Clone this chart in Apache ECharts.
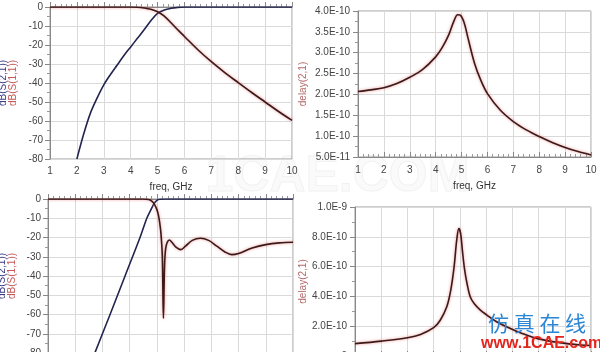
<!DOCTYPE html>
<html>
<head>
<meta charset="utf-8">
<script src="https://cdn.jsdelivr.net/npm/echarts@6/dist/echarts.min.js"></script>
<style>
html,body{margin:0;padding:0;background:#fff;}
#c{width:600px;height:352px;}
</style>
</head>
<body>
<div id="c"></div>
<script>
// ---- Data (freq in GHz) ----
// Top-left: dB(S(2,1)) (navy) and dB(S(1,1)) (red)
const tlS21 = [[2,-80],[2.25,-67],[2.5,-56],[2.75,-48],[3,-41],[3.25,-35.5],[3.5,-30.5],[3.75,-25.5],[4,-21],[4.25,-16.5],[4.5,-12],[4.75,-7.2],[5,-3.4],[5.25,-1.6],[5.5,-0.7],[5.75,-0.2],[6,0],[10,0]];
const tlS11 = [[1,0],[4,0],[4.25,-0.1],[4.5,-0.5],[4.75,-1.2],[5,-2.5],[5.25,-4.8],[5.5,-8.3],[5.75,-12],[6,-15.5],[6.5,-22.5],[7,-28.8],[7.5,-34.5],[8,-39.8],[8.5,-45],[9,-50],[9.5,-55],[10,-59.7]];
// Top-right: delay(2,1) seconds
const trDelay = [[1,2.07e-10],[1.5,2.11e-10],[2,2.16e-10],[2.5,2.26e-10],[3,2.41e-10],[3.5,2.6e-10],[4,2.9e-10],[4.25,3.12e-10],[4.5,3.42e-10],[4.7,3.75e-10],[4.85,3.91e-10],[4.95,3.9e-10],[5.1,3.72e-10],[5.25,3.35e-10],[5.5,2.75e-10],[5.75,2.33e-10],[6,2.02e-10],[6.5,1.62e-10],[7,1.35e-10],[7.5,1.15e-10],[8,9.9e-11],[8.5,8.5e-11],[9,7.3e-11],[9.5,6.3e-11],[10,5.5e-11]];
// Bottom-left: dB(S(2,1)) (navy) and dB(S(1,1)) (red)
const blS21 = [[2.72,-80],[3.28,-60],[3.83,-40],[4.38,-20],[4.63,-10],[4.8,-5],[4.9,-2.3],[5,-0.7],[5.1,-0.1],[5.3,0],[10,0]];
const blS11 = [[1,0],[4.5,0],[4.7,-0.3],[4.8,-1],[4.9,-2.5],[5,-5.5],[5.05,-8],[5.1,-12],[5.15,-18],[5.2,-30],[5.24,-62],[5.28,-35],[5.32,-26],[5.38,-22.5],[5.46,-21.3],[5.55,-22.5],[5.7,-25],[5.88,-26.3],[6.05,-24.5],[6.3,-21.5],[6.6,-20.4],[6.9,-21.5],[7.2,-24.5],[7.5,-27.5],[7.75,-28.9],[8,-28.3],[8.5,-25.5],[9,-23.7],[9.5,-22.8],[10,-22.5]];
// Bottom-right: delay(2,1) seconds
const brDelay = [[1,8.3e-11],[2,1.0e-10],[3,1.23e-10],[3.5,1.45e-10],[4,1.9e-10],[4.25,2.4e-10],[4.5,3.3e-10],[4.65,4.4e-10],[4.78,6.0e-10],[4.88,7.8e-10],[4.96,8.55e-10],[5.03,8.2e-10],[5.1,7.0e-10],[5.18,5.8e-10],[5.28,4.8e-10],[5.39,4.0e-10],[5.55,3.5e-10],[5.77,3.1e-10],[6.03,2.75e-10],[6.4,2.3e-10],[6.8,1.95e-10],[7.4,1.5e-10],[8,1.15e-10],[8.8,9.0e-11],[9.6,7.4e-11],[10,7.0e-11]];

const xLabel = 'freq, GHz';
const s21Name = 'dB(S(2,1))';
const s11Name = 'dB(S(1,1))';
const delayName = 'delay(2,1)';

function fmtE(v){
  if (v === 0) return '0';
  const e = Math.floor(Math.log10(Math.abs(v)) + 1e-9);
  const m = v / Math.pow(10, e);
  return m.toFixed(1) + 'E' + e;
}

const FONT = "'Liberation Sans', Arial, sans-serif";
const TXT = '#444';
const navy = '#23234f';
const maroon = '#3d1a1a';
const glow = 'rgba(225,70,70,0.6)';

function xAx(gi, showName, gap, margin){
  return {
    type:'value', gridIndex:gi, min:1, max:10, interval:1,
    name: showName ? xLabel : '', nameLocation:'middle', nameGap:gap,
    nameTextStyle:{color:'#333', fontSize:10, fontFamily:FONT},
    axisLine:{show:true, lineStyle:{color:'#888', width:1}},
    axisTick:{show:true, inside:true, length:5, lineStyle:{color:'#888'}},
    minorTick:{show:true, splitNumber:5, length:3, lineStyle:{color:'#999'}},
    axisLabel:{color:TXT, fontSize:10, fontFamily:FONT, margin:margin},
    splitLine:{show:true, lineStyle:{color:'#dadada', width:1}}
  };
}
function yAx(gi, opts){
  return Object.assign({
    type:'value', gridIndex:gi,
    nameLocation:'middle', nameRotate:90,
    axisLine:{show:true, lineStyle:{color:'#888', width:1}},
    axisTick:{show:true, inside:false, length:5, lineStyle:{color:'#888'}},
    minorTick:{show:true, splitNumber:2, length:3, lineStyle:{color:'#999'}},
    axisLabel:{color:TXT, fontSize:10, fontFamily:FONT, margin:7},
    splitLine:{show:true, lineStyle:{color:'#dadada', width:1}}
  }, opts);
}
const dbName = {
  name: '{a|' + s21Name + '}\n{b|' + s11Name + '}',
  nameTextStyle:{fontFamily:FONT, fontSize:10, lineHeight:10, rich:{
    a:{color:'#3c3c88', fontSize:10, fontFamily:FONT, lineHeight:10},
    b:{color:'#c45a5a', fontSize:10, fontFamily:FONT, lineHeight:10}}}
};
const dlName = {
  name: delayName,
  nameTextStyle:{color:'#b46a6a', fontSize:10, fontFamily:FONT}
};

function line(xi, data, color, glowy){
  return {
    type:'line', xAxisIndex:xi, yAxisIndex:xi, data:data, showSymbol:false, smooth:0.35,
    clip:true, animation:false,
    lineStyle: glowy ? {color:color, width:1.6, shadowColor:glow, shadowBlur:3} : {color:color, width:1.6}
  };
}

const grids = [
  {left:50, top:7, width:242, height:152},
  {left:358, top:11, width:233, height:146},
  {left:48, top:199, width:245, height:154},
  {left:355, top:207, width:236, height:149}
].map(g => Object.assign(g, {show:true, borderColor:'#9a9a9a', borderWidth:1, backgroundColor:'transparent', containLabel:false, outerBoundsMode:'none'}));

const option = {
  animation:false,
  backgroundColor:'#fff',
  grid: grids,
  xAxis: [ xAx(0,true,23,7), xAx(1,true,24,8), xAx(2,false,20,7), xAx(3,false,20,7) ],
  yAxis: [
    yAx(0, Object.assign({min:-80, max:0, interval:10, nameGap:32}, dbName)),
    yAx(1, Object.assign({min:5e-11, max:4e-10, interval:5e-11, nameGap:50,
      axisLabel:{color:TXT, fontSize:10, fontFamily:FONT, margin:8, formatter:fmtE}}, dlName)),
    yAx(2, Object.assign({min:-80, max:0, interval:10, nameGap:31}, dbName)),
    yAx(3, Object.assign({min:0, max:1e-9, interval:2e-10, nameGap:46,
      axisLabel:{color:TXT, fontSize:10, fontFamily:FONT, margin:8, formatter:fmtE}}, dlName))
  ],
  series: [
    line(0, tlS21, navy, false),
    line(0, tlS11, maroon, true),
    line(1, trDelay, maroon, true),
    line(2, blS21, navy, false),
    line(2, blS11, maroon, true),
    line(3, brDelay, maroon, true)
  ],
  graphic: [
    {type:'text', left:205, top:152, z:-1, silent:true,
     style:{text:'1CAE.COM', font:"bold 50px 'Liberation Sans', Arial, sans-serif", fill:'rgba(245,245,245,0.5)', stroke:'rgba(225,225,225,0.45)', lineWidth:1}},
    {type:'text', left:488, top:313, z:100,
     style:{text:'仿 真 在 线', font:"21px 'Noto Sans CJK SC', sans-serif", fill:'#2b86d6'}},
    {type:'text', left:481, top:336, z:100,
     style:{text:'www.1CAE.com', font:"bold 16px 'Liberation Sans', Arial, sans-serif", fill:'#e3261d'}}
  ]
};

const chart = echarts.init(document.getElementById('c'), null, {renderer:'canvas'});
chart.setOption(option);
</script>
</body>
</html>
